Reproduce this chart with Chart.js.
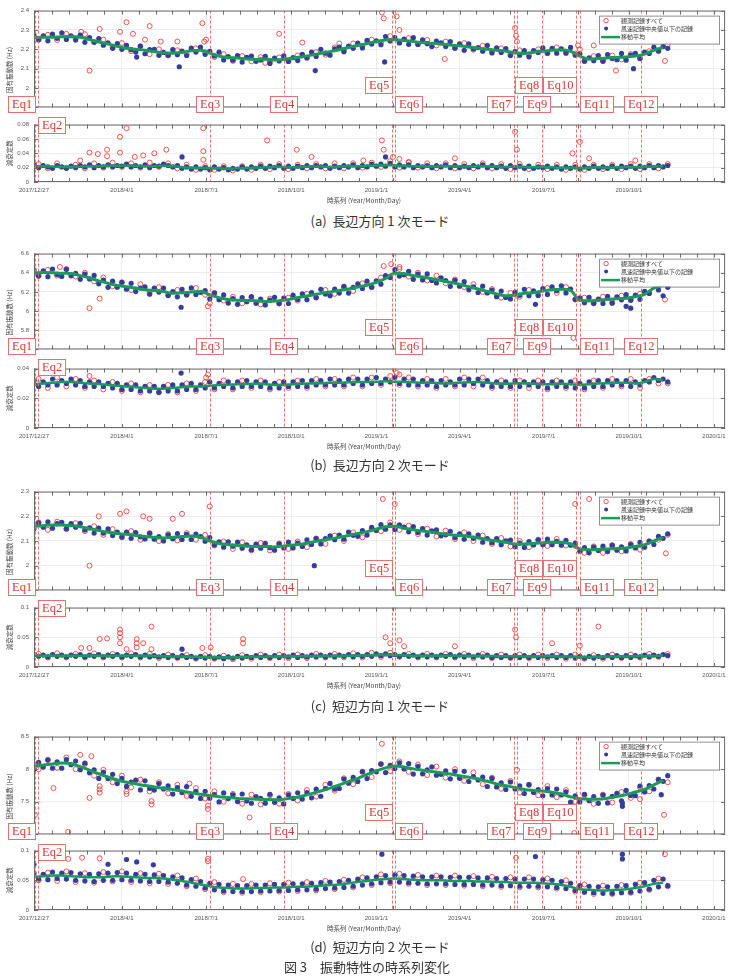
<!DOCTYPE html>
<html lang="ja">
<head>
<meta charset="utf-8">
<title>振動特性の時系列変化</title>
<script src="https://cdn.jsdelivr.net/npm/chart.js@4.4.1/dist/chart.umd.min.js"></script>
<style>
  body { margin: 0; width: 730px; height: 978px; position: relative; background: #fff; overflow: hidden; font-family: "Noto Sans CJK JP", sans-serif; }
  canvas { position: absolute; left: 0; }
  .cap { position: absolute; left: 0; width: 760px; text-align: center; font-size: 13px; line-height: 16px; color: #333; white-space: pre; }
  .eq { position: absolute; height: 15px; padding: 0 3px; border: 1px solid #e57070; background: #fff; color: #d8393c; font: 12.5px/15px "Liberation Serif", serif; white-space: nowrap; z-index: 5; }
</style>
</head>
<body>
<script>
// ---------- x axis (days from 2017/12/27) ----------
const majorDays = [0, 95, 186, 278, 370, 460, 551, 643, 735];
const majorLabels = ['2017/12/27', '2018/4/1', '2018/7/1', '2018/10/1', '2019/1/1', '2019/4/1', '2019/7/1', '2019/10/1', '2020/1/1'];
const X_MAX = 747;

// ---------- earthquakes ----------
const eqNames = ['Eq1', 'Eq2', 'Eq3', 'Eq4', 'Eq5', 'Eq6', 'Eq7', 'Eq8', 'Eq9', 'Eq10', 'Eq11', 'Eq12'];
const eqDays = [1, 4, 190, 270, 387, 390, 519, 522, 549, 586, 590, 656];
const eqSide = ['L', 'R', 'C', 'C', 'L', 'R', 'L', 'R', 'C', 'L', 'R', 'C'];
const eqRow = ['lo', 'eq2', 'lo', 'lo', 'hi', 'lo', 'lo', 'hi', 'lo', 'hi', 'lo', 'lo'];
const eqShift = [0, 0, 0, 0, 0, 0, 0, -2, -5, 0, 0, 0];

// ---------- y ticks ----------
const aFreqTicks = [1.9, 2, 2.1, 2.2, 2.3, 2.4];
const aDampTicks = [0, 0.02, 0.04, 0.06, 0.08];
const bFreqTicks = [5.6, 5.8, 6, 6.2, 6.4, 6.6];
const bDampTicks = [0, 0.02, 0.04];
const cFreqTicks = [1.9, 2, 2.1, 2.2, 2.3];
const cDampTicks = [0, 0.05, 0.1];
const dFreqTicks = [7, 7.5, 8, 8.5];
const dDampTicks = [0, 0.05, 0.1];

// avg: every 10 days from day 0, low: every 5 days from day 0, all: every 10 days from day 5

// ---------- (a) ----------
const aFreqAvg = [
  2.260,2.262,2.262,2.265,2.266,2.262,2.250,2.238,2.228,2.215,
  2.205,2.200,2.195,2.188,2.182,2.180,2.185,2.192,2.195,2.180,
  2.165,2.158,2.155,2.150,2.148,2.150,2.145,2.148,2.155,2.162,
  2.170,2.180,2.188,2.198,2.210,2.220,2.230,2.240,2.248,2.250,
  2.245,2.240,2.235,2.232,2.228,2.222,2.218,2.212,2.205,2.200,
  2.195,2.190,2.182,2.178,2.185,2.190,2.195,2.198,2.190,2.165,
  2.150,2.152,2.155,2.158,2.160,2.165,2.175,2.195,2.210];
const aFreqLow = [
  2.274,2.249,2.270,2.244,2.278,2.257,2.285,2.251,2.270,2.248,
  2.274,2.236,2.260,2.236,2.256,2.221,2.234,2.205,2.229,2.200,
  2.221,2.198,2.186,2.217,2.177,2.199,2.200,2.169,2.184,2.169,
  2.198,2.172,2.191,2.168,2.206,2.186,2.211,2.174,2.190,2.166,
  2.185,2.145,2.162,2.144,2.167,2.134,2.158,2.165,2.138,2.145,
  2.164,2.127,2.155,2.140,2.166,2.137,2.157,2.142,2.174,2.158,
  2.186,2.163,2.200,2.180,2.170,2.203,2.212,2.188,2.216,2.205,
  2.232,2.207,2.246,2.227,2.244,2.224,2.266,2.243,2.260,2.233,
  2.253,2.226,2.260,2.225,2.249,2.229,2.214,2.242,2.234,2.215,
  2.240,2.206,2.228,2.195,2.228,2.202,2.209,2.190,2.220,2.181,
  2.207,2.184,2.204,2.168,2.188,2.170,2.194,2.161,2.193,2.184,
  2.208,2.180,2.205,2.180,2.202,2.180,2.210,2.170,2.177,2.139,
  2.156,2.141,2.168,2.139,2.173,2.152,2.146,2.179,2.144,2.170,
  2.179,2.152,2.185,2.179,2.211,2.190,2.214,2.205];
const aFreqAll = [
  2.250,2.275,2.248,2.280,2.255,2.278,2.238,2.250,2.212,2.232,
  2.190,2.215,2.175,2.200,2.168,2.195,2.175,2.205,2.185,2.160,
  2.175,2.140,2.165,2.138,2.160,2.135,2.158,2.140,2.168,2.155,
  2.185,2.172,2.210,2.195,2.230,2.215,2.250,2.235,2.268,2.238,
  2.258,2.228,2.248,2.220,2.240,2.208,2.232,2.198,2.218,2.188,
  2.205,2.172,2.195,2.170,2.200,2.180,2.210,2.185,2.178,2.140,
  2.165,2.140,2.168,2.148,2.175,2.155,2.190,2.195,2.225];
const aFreqAllOut = [[51,2.29],[60,2.09],[71,2.305],[93,2.29],[100,2.34],[107,2.28],[120,2.25],[125,2.32],[137,2.24],[155,2.24],
  [182,2.335],[184,2.24],[186,2.25],[250,2.13],[265,2.28],[290,2.235],[330,2.23],[376,2.39],[378,2.36],[392,2.37],[395,2.30],
  [444,2.15],[520,2.31],[521,2.27],[522,2.24],[583,2.0],[588,2.22],[590,2.2],[605,2.22],[629,2.09],[682,2.14]];
const aFreqLowOut = [[111,2.16],[157,2.11],[304,2.09],[379,2.135],[648,2.10]];

const aDampAvg = [
  0.022,0.022,0.0215,0.021,0.021,0.0215,0.022,0.022,0.0225,0.0225,
  0.023,0.0225,0.022,0.022,0.0225,0.022,0.0205,0.020,0.0195,0.0195,
  0.019,0.0185,0.019,0.0195,0.020,0.0205,0.021,0.021,0.0205,0.021,
  0.0215,0.0215,0.021,0.0215,0.022,0.022,0.0225,0.023,0.0235,0.023,
  0.0225,0.022,0.022,0.0215,0.022,0.022,0.0215,0.0215,0.022,0.022,
  0.0215,0.021,0.0215,0.021,0.0205,0.021,0.0205,0.020,0.020,0.0195,
  0.020,0.0205,0.020,0.0205,0.021,0.0205,0.021,0.0215,0.022];
const aDampLow = [
  0.024,0.020,0.023,0.021,0.019,0.023,0.021,0.019,0.022,0.020,
  0.023,0.021,0.024,0.020,0.023,0.021,0.024,0.021,0.023,0.022,
  0.025,0.021,0.023,0.021,0.024,0.020,0.023,0.022,0.025,0.023,
  0.021,0.023,0.019,0.021,0.018,0.021,0.018,0.020,0.017,0.021,
  0.018,0.020,0.017,0.019,0.018,0.021,0.018,0.021,0.019,0.022,
  0.019,0.022,0.020,0.023,0.019,0.022,0.019,0.022,0.020,0.023,
  0.020,0.023,0.021,0.023,0.019,0.022,0.020,0.023,0.021,0.024,
  0.020,0.023,0.021,0.025,0.022,0.025,0.022,0.026,0.021,0.024,
  0.021,0.024,0.020,0.023,0.021,0.023,0.020,0.023,0.021,0.024,
  0.020,0.023,0.020,0.022,0.020,0.023,0.021,0.024,0.020,0.023,
  0.020,0.022,0.019,0.023,0.020,0.022,0.019,0.022,0.019,0.021,
  0.020,0.022,0.019,0.021,0.018,0.021,0.019,0.021,0.018,0.021,
  0.019,0.022,0.019,0.021,0.019,0.022,0.019,0.022,0.020,0.022,
  0.019,0.022,0.020,0.023,0.020,0.023,0.021,0.023];
const aDampAll = [
  0.025,0.019,0.026,0.020,0.024,0.019,0.026,0.020,0.027,0.021,
  0.026,0.020,0.027,0.021,0.026,0.019,0.024,0.017,0.022,0.017,
  0.022,0.016,0.022,0.017,0.024,0.018,0.025,0.018,0.024,0.019,
  0.025,0.019,0.026,0.019,0.026,0.020,0.027,0.021,0.029,0.020,
  0.027,0.020,0.026,0.019,0.026,0.019,0.025,0.019,0.026,0.019,
  0.025,0.018,0.025,0.018,0.024,0.018,0.024,0.017,0.024,0.017,
  0.024,0.018,0.024,0.018,0.025,0.018,0.025,0.019,0.025];
const aDampAllOut = [[50,0.03],[60,0.041],[69,0.039],[79,0.045],[79,0.036],[93,0.063],[93,0.041],[100,0.075],[109,0.035],[118,0.037],
  [130,0.04],[143,0.045],[183,0.075],[183,0.043],[183,0.031],[252,0.058],[284,0.045],[300,0.035],[356,0.03],[376,0.058],
  [378,0.045],[388,0.035],[395,0.032],[405,0.028],[455,0.033],[520,0.07],[522,0.045],[582,0.04],[590,0.056],[600,0.033],[650,0.03]];
const aDampLowOut = [[160,0.035],[380,0.035]];

// ---------- (b) ----------
const bFreqAvg = [
  6.400,6.402,6.400,6.395,6.392,6.370,6.345,6.315,6.290,6.268,
  6.255,6.240,6.222,6.215,6.205,6.185,6.190,6.200,6.205,6.170,
  6.140,6.120,6.112,6.110,6.108,6.100,6.105,6.112,6.130,6.150,
  6.165,6.185,6.200,6.215,6.230,6.250,6.270,6.300,6.340,6.395,
  6.390,6.370,6.355,6.338,6.320,6.300,6.280,6.255,6.230,6.205,
  6.180,6.160,6.165,6.185,6.192,6.210,6.222,6.228,6.215,6.110,
  6.105,6.112,6.120,6.128,6.135,6.150,6.175,6.240,6.268];
const bFreqLow = [
  6.430,6.365,6.420,6.359,6.439,6.383,6.362,6.436,6.368,6.393,
  6.331,6.385,6.336,6.372,6.285,6.323,6.248,6.312,6.250,6.301,
  6.228,6.290,6.204,6.240,6.252,6.176,6.239,6.198,6.241,6.162,
  6.203,6.149,6.226,6.171,6.242,6.173,6.196,6.215,6.128,6.188,
  6.119,6.169,6.084,6.131,6.070,6.141,6.098,6.151,6.081,6.125,
  6.064,6.114,6.144,6.078,6.136,6.079,6.166,6.122,6.180,6.119,
  6.192,6.142,6.227,6.177,6.161,6.229,6.188,6.258,6.188,6.249,
  6.283,6.236,6.312,6.249,6.315,6.281,6.370,6.350,6.434,6.365,
  6.378,6.416,6.331,6.386,6.325,6.388,6.320,6.293,6.347,6.319,
  6.258,6.320,6.259,6.307,6.222,6.254,6.194,6.260,6.190,6.219,
  6.150,6.209,6.142,6.126,6.198,6.166,6.227,6.161,6.210,6.162,
  6.234,6.174,6.252,6.213,6.264,6.189,6.230,6.123,6.137,6.087,
  6.144,6.081,6.124,6.080,6.153,6.082,6.149,6.117,6.171,6.112,
  6.168,6.123,6.205,6.184,6.282,6.221,6.280,6.248];
const bFreqAll = [
  6.37,6.43,6.37,6.44,6.36,6.40,6.31,6.35,6.26,6.30,
  6.22,6.28,6.19,6.25,6.17,6.22,6.17,6.24,6.17,6.19,
  6.11,6.15,6.08,6.14,6.07,6.13,6.08,6.14,6.11,6.18,
  6.14,6.22,6.18,6.25,6.21,6.29,6.25,6.35,6.36,6.44,
  6.36,6.40,6.32,6.37,6.29,6.33,6.25,6.28,6.20,6.23,
  6.14,6.19,6.15,6.22,6.17,6.24,6.19,6.25,6.12,6.14,
  6.08,6.15,6.09,6.16,6.12,6.18,6.19,6.28,6.26];
const bFreqAllOut = [[28,6.46],[60,6.03],[71,6.13],[188,6.05],[190,6.08],[378,6.47],[386,6.49],[395,6.46],[522,6.16],[583,5.72],[682,6.12]];
const bFreqLowOut = [[159,6.04],[542,6.07],[640,6.05],[645,6.03],[680,6.16]];

const bDampAvg = [
  0.0295,0.030,0.0305,0.031,0.031,0.0305,0.030,0.0297,0.029,0.0285,
  0.028,0.0275,0.027,0.0265,0.0265,0.027,0.0275,0.028,0.028,0.0285,
  0.029,0.0292,0.0295,0.0297,0.0298,0.0295,0.029,0.029,0.0295,0.0298,
  0.030,0.0302,0.0305,0.0305,0.0308,0.031,0.031,0.0312,0.0315,0.0312,
  0.031,0.0308,0.0305,0.0305,0.030,0.0302,0.0305,0.0308,0.031,0.0305,
  0.030,0.0298,0.030,0.0302,0.0298,0.0295,0.0295,0.0298,0.0295,0.029,
  0.0295,0.030,0.0302,0.0305,0.0305,0.030,0.031,0.033,0.032];
const bDampLow = [
  0.032,0.028,0.031,0.029,0.033,0.029,0.032,0.030,0.033,0.029,
  0.032,0.028,0.031,0.028,0.031,0.028,0.030,0.027,0.030,0.026,
  0.029,0.026,0.029,0.025,0.028,0.025,0.028,0.024,0.028,0.025,
  0.029,0.025,0.029,0.026,0.030,0.026,0.029,0.027,0.031,0.027,
  0.030,0.028,0.031,0.027,0.031,0.028,0.032,0.028,0.031,0.028,
  0.031,0.027,0.030,0.027,0.031,0.028,0.031,0.028,0.032,0.028,
  0.032,0.029,0.032,0.029,0.033,0.029,0.032,0.029,0.033,0.030,
  0.033,0.029,0.033,0.030,0.034,0.030,0.033,0.031,0.034,0.030,
  0.033,0.029,0.033,0.029,0.032,0.029,0.032,0.028,0.032,0.029,
  0.031,0.029,0.033,0.029,0.033,0.030,0.033,0.029,0.032,0.028,
  0.031,0.028,0.031,0.028,0.032,0.028,0.031,0.029,0.031,0.028,
  0.031,0.027,0.031,0.028,0.031,0.028,0.031,0.027,0.030,0.027,
  0.031,0.028,0.032,0.028,0.032,0.029,0.032,0.029,0.032,0.028,
  0.031,0.029,0.032,0.031,0.034,0.032,0.033,0.031];
const bDampAll = [
  0.033,0.027,0.034,0.028,0.033,0.027,0.032,0.026,0.031,0.025,
  0.030,0.024,0.029,0.024,0.029,0.024,0.030,0.025,0.031,0.026,
  0.032,0.026,0.032,0.027,0.032,0.026,0.031,0.027,0.032,0.027,
  0.033,0.028,0.033,0.028,0.034,0.028,0.034,0.029,0.035,0.029,
  0.034,0.028,0.033,0.027,0.033,0.028,0.034,0.028,0.034,0.027,
  0.032,0.027,0.032,0.027,0.032,0.026,0.032,0.027,0.032,0.026,
  0.032,0.027,0.033,0.028,0.033,0.027,0.033,0.030,0.030];
const bDampAllOut = [[60,0.035],[186,0.034],[188,0.036],[392,0.037],[395,0.036]];
const bDampLowOut = [[159,0.037]];

// ---------- (c) ----------
const cFreqAvg = [
  2.160,2.162,2.165,2.165,2.162,2.158,2.150,2.142,2.135,2.130,
  2.127,2.122,2.118,2.115,2.112,2.115,2.118,2.120,2.115,2.100,
  2.090,2.085,2.082,2.080,2.078,2.078,2.076,2.080,2.084,2.088,
  2.095,2.102,2.108,2.115,2.122,2.130,2.138,2.148,2.158,2.160,
  2.152,2.145,2.140,2.135,2.130,2.125,2.122,2.118,2.112,2.105,
  2.100,2.095,2.088,2.088,2.090,2.093,2.095,2.095,2.088,2.068,
  2.065,2.066,2.068,2.070,2.072,2.078,2.085,2.100,2.115];
const cFreqLow = [
  2.150,2.173,2.156,2.178,2.152,2.170,2.176,2.150,2.170,2.156,
  2.171,2.145,2.153,2.132,2.152,2.132,2.149,2.122,2.136,2.116,
  2.136,2.111,2.134,2.117,2.108,2.131,2.107,2.118,2.100,2.125,
  2.109,2.130,2.106,2.127,2.106,2.128,2.118,2.099,2.114,2.084,
  2.097,2.075,2.097,2.079,2.096,2.071,2.084,2.065,2.087,2.071,
  2.090,2.073,2.063,2.088,2.072,2.096,2.072,2.092,2.078,2.105,
  2.086,2.110,2.088,2.110,2.121,2.105,2.124,2.107,2.136,2.123,
  2.119,2.142,2.124,2.155,2.143,2.166,2.148,2.165,2.147,2.165,
  2.156,2.137,2.158,2.134,2.150,2.124,2.141,2.145,2.121,2.125,
  2.139,2.114,2.129,2.107,2.129,2.111,2.124,2.095,2.110,2.093,
  2.110,2.085,2.101,2.104,2.077,2.091,2.074,2.098,2.084,2.105,
  2.085,2.108,2.085,2.099,2.083,2.103,2.083,2.091,2.059,2.073,
  2.052,2.075,2.062,2.079,2.057,2.083,2.063,2.076,2.060,2.085,
  2.072,2.095,2.075,2.100,2.086,2.119,2.111,2.129];
const cFreqAll = [
  2.175,2.145,2.178,2.148,2.172,2.140,2.160,2.125,2.148,2.115,
  2.140,2.105,2.132,2.100,2.128,2.102,2.132,2.105,2.125,2.082,
  2.098,2.068,2.095,2.062,2.092,2.062,2.090,2.068,2.098,2.075,
  2.110,2.088,2.122,2.100,2.135,2.115,2.150,2.140,2.175,2.145,
  2.162,2.128,2.150,2.118,2.142,2.108,2.135,2.100,2.122,2.088,
  2.112,2.078,2.100,2.075,2.105,2.080,2.108,2.082,2.080,2.052,
  2.078,2.052,2.082,2.058,2.088,2.065,2.098,2.105,2.125];
const cFreqAllOut = [[60,2.0],[70,2.2],[93,2.21],[100,2.22],[118,2.2],[125,2.19],[150,2.19],[160,2.21],[190,2.24],[377,2.27],
  [390,2.25],[585,2.25],[600,2.27],[683,2.05]];
const cFreqLowOut = [[303,2.0]];

const cDampAvg = [
  0.019,0.019,0.0192,0.019,0.0188,0.019,0.0192,0.019,0.0188,0.019,
  0.0192,0.019,0.0188,0.0185,0.018,0.0178,0.0175,0.0172,0.017,0.0165,
  0.0162,0.016,0.0165,0.017,0.0172,0.0175,0.0175,0.0178,0.018,0.018,
  0.0182,0.0185,0.0185,0.0188,0.019,0.0192,0.0195,0.020,0.0205,0.020,
  0.0195,0.019,0.019,0.0188,0.0188,0.019,0.019,0.0188,0.0185,0.0185,
  0.0182,0.018,0.018,0.0178,0.0178,0.018,0.018,0.0178,0.0175,0.017,
  0.017,0.0172,0.0175,0.0175,0.0178,0.018,0.0182,0.0185,0.019];
const cDampLow = [
  0.021,0.018,0.020,0.017,0.021,0.018,0.020,0.017,0.020,0.018,
  0.021,0.017,0.020,0.018,0.021,0.017,0.020,0.018,0.021,0.017,
  0.020,0.018,0.021,0.017,0.020,0.017,0.019,0.017,0.019,0.016,
  0.019,0.016,0.019,0.016,0.018,0.015,0.018,0.015,0.018,0.015,
  0.017,0.014,0.017,0.015,0.018,0.015,0.018,0.016,0.019,0.016,
  0.019,0.016,0.019,0.016,0.019,0.017,0.020,0.016,0.019,0.017,
  0.020,0.017,0.020,0.017,0.020,0.017,0.020,0.018,0.021,0.017,
  0.021,0.018,0.021,0.018,0.022,0.019,0.022,0.019,0.021,0.018,
  0.021,0.018,0.020,0.017,0.020,0.017,0.020,0.017,0.020,0.018,
  0.021,0.017,0.020,0.017,0.020,0.017,0.020,0.017,0.020,0.016,
  0.019,0.016,0.019,0.016,0.019,0.016,0.019,0.016,0.019,0.016,
  0.019,0.017,0.019,0.016,0.019,0.016,0.019,0.015,0.018,0.015,
  0.018,0.015,0.018,0.016,0.019,0.016,0.019,0.016,0.019,0.016,
  0.019,0.017,0.020,0.017,0.020,0.018,0.021,0.019];
const cDampAll = [
  0.022,0.016,0.023,0.016,0.022,0.016,0.023,0.016,0.022,0.016,
  0.023,0.016,0.022,0.015,0.021,0.015,0.020,0.014,0.020,0.014,
  0.019,0.013,0.020,0.014,0.021,0.015,0.021,0.015,0.021,0.015,
  0.022,0.016,0.022,0.016,0.023,0.016,0.024,0.017,0.024,0.017,
  0.022,0.016,0.022,0.016,0.022,0.016,0.022,0.015,0.022,0.015,
  0.021,0.015,0.021,0.015,0.021,0.015,0.021,0.014,0.021,0.014,
  0.020,0.014,0.021,0.015,0.021,0.016,0.022,0.017,0.022];
const cDampAllOut = [[51,0.032],[60,0.032],[71,0.047],[79,0.048],[93,0.063],[93,0.057],[93,0.05],[93,0.04],[100,0.03],[111,0.047],
  [111,0.04],[111,0.033],[118,0.04],[127,0.068],[127,0.03],[182,0.032],[191,0.033],[226,0.047],[226,0.04],[380,0.05],
  [385,0.04],[395,0.045],[400,0.035],[455,0.035],[520,0.063],[521,0.05],[560,0.04],[590,0.036],[610,0.068]];
const cDampLowOut = [[160,0.03]];

// ---------- (d) ----------
const dFreqAvg = [
  8.050,8.065,8.080,8.095,8.085,8.040,7.985,7.930,7.880,7.835,
  7.800,7.775,7.750,7.728,7.705,7.690,7.665,7.640,7.615,7.595,
  7.578,7.565,7.552,7.545,7.540,7.535,7.532,7.540,7.560,7.590,
  7.625,7.665,7.710,7.760,7.810,7.860,7.920,7.975,8.020,8.050,
  8.035,8.005,7.985,7.965,7.945,7.925,7.900,7.875,7.850,7.815,
  7.775,7.745,7.720,7.690,7.675,7.665,7.645,7.620,7.575,7.545,
  7.540,7.540,7.555,7.580,7.610,7.650,7.690,7.760,7.830];
const dFreqLow = [
  7.994,8.106,8.033,8.144,8.016,8.112,8.015,8.146,8.069,8.126,
  7.992,8.092,7.945,7.990,7.858,7.953,7.856,7.922,7.779,7.858,
  7.736,7.804,7.831,7.682,7.822,7.707,7.680,7.780,7.697,7.746,
  7.618,7.718,7.641,7.732,7.584,7.660,7.551,7.661,7.555,7.610,
  7.498,7.636,7.549,7.606,7.504,7.620,7.513,7.478,7.580,7.554,
  7.479,7.614,7.492,7.560,7.468,7.606,7.552,7.639,7.542,7.640,
  7.561,7.693,7.585,7.704,7.782,7.695,7.704,7.849,7.786,7.875,
  7.812,7.962,7.856,7.980,7.959,8.078,7.948,8.059,8.010,8.098,
  8.003,8.084,7.925,8.043,7.929,7.991,8.037,7.907,7.921,7.975,
  7.853,7.968,7.860,7.968,7.811,7.886,7.834,7.880,7.735,7.859,
  7.727,7.792,7.689,7.804,7.696,7.745,7.626,7.762,7.643,7.686,
  7.593,7.703,7.605,7.696,7.604,7.654,7.495,7.592,7.497,7.614,
  7.516,7.580,7.476,7.604,7.483,7.584,7.628,7.515,7.674,7.598,
  7.594,7.742,7.650,7.749,7.696,7.843,7.814,7.900];
const dFreqAll = [
  8.00,8.14,8.02,8.18,8.00,8.08,7.90,7.99,7.80,7.90,
  7.72,7.84,7.66,7.80,7.63,7.76,7.59,7.71,7.55,7.66,
  7.50,7.62,7.47,7.61,7.46,7.60,7.47,7.62,7.52,7.68,
  7.58,7.76,7.67,7.86,7.77,7.96,7.88,8.08,7.97,8.12,
  7.96,8.07,7.91,8.04,7.87,8.00,7.82,7.95,7.77,7.87,
  7.70,7.82,7.64,7.76,7.60,7.74,7.57,7.68,7.50,7.60,
  7.47,7.61,7.49,7.65,7.56,7.72,7.66,7.84,7.80];
const dFreqAllOut = [[1,7.30],[21,7.71],[37,7.04],[50,8.22],[60,7.56],[62,8.20],[71,7.64],[71,7.69],[71,7.74],[100,7.62],
  [100,7.66],[127,7.46],[127,7.51],[168,7.78],[188,7.39],[188,7.44],[233,7.26],[376,8.39],[522,7.99],[584,7.02],[655,7.54],[681,7.30]];
const dFreqLowOut = [[636,7.48],[636,7.43],[678,7.61]];

const dDampAvg = [
  0.056,0.057,0.058,0.058,0.057,0.056,0.055,0.055,0.056,0.057,
  0.056,0.055,0.054,0.054,0.053,0.051,0.049,0.046,0.043,0.040,
  0.038,0.037,0.036,0.036,0.037,0.037,0.038,0.038,0.039,0.039,
  0.040,0.041,0.042,0.043,0.045,0.047,0.049,0.051,0.052,0.053,
  0.052,0.051,0.050,0.050,0.050,0.049,0.049,0.049,0.048,0.048,
  0.047,0.047,0.046,0.046,0.046,0.045,0.044,0.042,0.039,0.035,
  0.034,0.033,0.033,0.034,0.035,0.037,0.040,0.044,0.046];
const dDampLow = [
  0.062,0.052,0.060,0.051,0.064,0.053,0.062,0.052,0.063,0.050,
  0.061,0.049,0.060,0.048,0.061,0.050,0.062,0.050,0.063,0.051,
  0.062,0.050,0.060,0.049,0.060,0.048,0.059,0.048,0.058,0.047,
  0.056,0.045,0.054,0.042,0.051,0.040,0.048,0.037,0.045,0.034,
  0.043,0.032,0.042,0.031,0.041,0.031,0.041,0.031,0.042,0.032,
  0.042,0.032,0.043,0.033,0.043,0.033,0.044,0.034,0.044,0.034,
  0.045,0.035,0.046,0.036,0.047,0.037,0.048,0.038,0.050,0.040,
  0.052,0.042,0.054,0.044,0.056,0.046,0.058,0.047,0.059,0.047,
  0.058,0.046,0.057,0.045,0.056,0.044,0.056,0.044,0.056,0.044,
  0.055,0.043,0.055,0.043,0.055,0.043,0.054,0.042,0.054,0.042,
  0.053,0.041,0.053,0.041,0.052,0.040,0.052,0.040,0.052,0.040,
  0.051,0.039,0.050,0.038,0.048,0.036,0.045,0.033,0.041,0.030,
  0.040,0.029,0.039,0.028,0.039,0.028,0.040,0.029,0.041,0.030,
  0.043,0.032,0.046,0.035,0.050,0.039,0.052,0.041];
const dDampAll = [
  0.050,0.063,0.049,0.065,0.047,0.062,0.046,0.064,0.048,0.065,
  0.047,0.062,0.045,0.061,0.044,0.058,0.040,0.053,0.035,0.047,
  0.030,0.044,0.029,0.044,0.030,0.045,0.031,0.046,0.032,0.047,
  0.033,0.049,0.035,0.051,0.038,0.055,0.042,0.060,0.045,0.061,
  0.044,0.059,0.042,0.058,0.042,0.058,0.041,0.057,0.040,0.056,
  0.039,0.055,0.038,0.055,0.038,0.053,0.036,0.050,0.031,0.043,
  0.027,0.041,0.027,0.042,0.029,0.046,0.034,0.053,0.040];
const dDampAllOut = [[37,0.086],[52,0.088],[71,0.087],[188,0.086],[188,0.082],[226,0.052],[521,0.088],[682,0.094]];
const dDampLowOut = [[0,0.077],[80,0.077],[100,0.085],[111,0.081],[129,0.076],[376,0.094],[542,0.09],[636,0.094],[636,0.086]];

// ---------- style ----------
const RED = '#ee3e3e';
const BLUE = '#333f9b';
const GREEN = '#1c9a57';
const GRID = '#e4e4e4';
const FRAME = '#6b6b6b';
const EQ_LINE = '#e4625c';
const TXT = '#555';

// all tick positions (majors + 4 minors between)
const tickDays = [];
for (let i = 0; i < majorDays.length - 1; i++) {
  const a = majorDays[i], b = majorDays[i + 1];
  for (let k = 0; k < 5; k++) tickDays.push(a + (b - a) * k / 5);
}
tickDays.push(majorDays[majorDays.length - 1]);

const pts = (start, step, vals) => vals.map((v, i) => ({x: start + i * step, y: v}));
const pairs = arr => arr.map(p => ({x: p[0], y: p[1]}));

function makeSets(s, lw) {
  return [
    {data: pts(0, 10, s[0]), showLine: true, borderColor: GREEN, borderWidth: lw, pointRadius: 0, cubicInterpolationMode: 'monotone', order: 0},
    {data: pts(0, 5, s[1]).concat(pairs(s[4])), pointRadius: 2.6, backgroundColor: BLUE, borderWidth: 0, order: 1},
    {data: pts(5, 10, s[2]).concat(pairs(s[3])), pointRadius: 2.5, borderColor: RED, backgroundColor: 'rgba(0,0,0,0)', borderWidth: 0.9, order: 2}
  ];
}

// frame, inward ticks, titles, legend, earthquake lines
const deco = {
  id: 'deco',
  afterDatasetsDraw(chart) {
    const {ctx, chartArea: a, scales: {x}} = chart;
    ctx.save();
    ctx.strokeStyle = EQ_LINE;
    ctx.lineWidth = 0.9;
    ctx.setLineDash([3, 2]);
    ctx.beginPath();
    eqDays.forEach(d => {
      const px = Math.round(x.getPixelForValue(d)) + 0.5;
      ctx.moveTo(px, a.top);
      ctx.lineTo(px, a.bottom);
    });
    ctx.stroke();
    ctx.restore();
  },
  afterDraw(chart, args, o) {
    const {ctx, chartArea: a, scales: {x, y}} = chart;
    ctx.save();
    ctx.strokeStyle = FRAME;
    ctx.lineWidth = 1;
    ctx.strokeRect(a.left + 0.5, a.top + 0.5, a.right - a.left - 1, a.bottom - a.top - 1);
    ctx.beginPath();
    tickDays.forEach(d => {
      const px = Math.round(x.getPixelForValue(d)) + 0.5;
      ctx.moveTo(px, a.bottom); ctx.lineTo(px, a.bottom - 4);
      ctx.moveTo(px, a.top); ctx.lineTo(px, a.top + 4);
    });
    y.ticks.forEach(t => {
      const py = Math.round(y.getPixelForValue(t.value)) + 0.5;
      ctx.moveTo(a.left, py); ctx.lineTo(a.left + 4, py);
      ctx.moveTo(a.right, py); ctx.lineTo(a.right - 4, py);
    });
    ctx.stroke();

    // y title
    ctx.fillStyle = '#444';
    ctx.font = '6.5px "Noto Sans CJK JP"';
    ctx.textAlign = 'center';
    ctx.textBaseline = 'middle';
    ctx.save();
    ctx.translate(10, (a.top + a.bottom) / 2 + o.titleShift);
    ctx.rotate(-Math.PI / 2);
    ctx.fillText(o.yTitle, 0, 0);
    ctx.restore();

    // x title
    if (o.xTitle) ctx.fillText('時系列 (Year/Month/Day)', 364, a.bottom + 19);

    // legend
    if (o.legend) {
      const lx = a.right - 126, ly = a.top + 5;
      ctx.fillStyle = '#fff';
      ctx.fillRect(lx, ly, 120, 28);
      ctx.strokeStyle = '#777';
      ctx.lineWidth = 0.8;
      ctx.strokeRect(lx + 0.5, ly + 0.5, 120, 28);
      ctx.beginPath();
      ctx.arc(lx + 7, ly + 5, 2.2, 0, Math.PI * 2);
      ctx.strokeStyle = RED;
      ctx.lineWidth = 0.9;
      ctx.stroke();
      ctx.beginPath();
      ctx.arc(lx + 7, ly + 13, 2, 0, Math.PI * 2);
      ctx.fillStyle = BLUE;
      ctx.fill();
      ctx.beginPath();
      ctx.moveTo(lx + 2, ly + 21.5);
      ctx.lineTo(lx + 21, ly + 21.5);
      ctx.strokeStyle = GREEN;
      ctx.lineWidth = 2.5;
      ctx.stroke();
      ctx.fillStyle = '#333';
      ctx.textAlign = 'left';
      ctx.font = '6px "Noto Sans CJK JP"';
      ctx.fillText('観測記録すべて', lx + 22, ly + 5);
      ctx.fillText('風速記録中央値以下の記録', lx + 22, ly + 13);
      ctx.fillText('移動平均', lx + 22, ly + 21.5);
    }
    ctx.restore();
  }
};

function makeChart(top, bottom, range, yTicks, sets, isFreq, lastLabel) {
  const padTop = 6;
  const below = isFreq ? 0 : 28;
  const c = document.createElement('canvas');
  c.width = 730;
  c.height = bottom - top + padTop + below;
  c.style.top = (top - padTop) + 'px';
  document.body.appendChild(c);

  return new Chart(c, {
    type: 'scatter',
    data: {datasets: sets},
    plugins: [deco],
    options: {
      responsive: false,
      animation: false,
      devicePixelRatio: 1,
      events: [],
      layout: {padding: {top: padTop, right: 3, left: 0, bottom: isFreq ? 0 : 14}},
      plugins: {
        legend: {display: false},
        tooltip: {enabled: false},
        deco: {yTitle: isFreq ? '固有振動数 (Hz)' : '減衰定数', titleShift: isFreq ? 11 : 0, xTitle: !isFreq, legend: isFreq}
      },
      scales: {
        x: {
          type: 'linear', min: 0, max: X_MAX,
          afterBuildTicks: s => { s.ticks = tickDays.map(v => ({value: v})); },
          afterFit: s => { s.height = isFreq ? 0 : 14; s.paddingLeft = 0; s.paddingRight = 0; },
          border: {display: false},
          grid: {drawTicks: false, lineWidth: 0.7, color: ctx => (ctx.tick && majorDays.includes(ctx.tick.value) ? GRID : 'rgba(0,0,0,0)')},
          ticks: {
            display: !isFreq, autoSkip: false, maxRotation: 0, padding: 5,
            color: TXT, font: {family: 'Liberation Sans', size: 6},
            callback: v => {
              const i = majorDays.indexOf(v);
              if (i < 0) return '';
              if (!lastLabel && i === majorDays.length - 1) return '';
              return majorLabels[i];
            }
          }
        },
        y: {
          min: range[0], max: range[1],
          afterBuildTicks: s => { s.ticks = yTicks.map(v => ({value: v})); },
          afterFit: s => { s.width = 34; },
          border: {display: false},
          grid: {drawTicks: false, lineWidth: 0.7, color: GRID},
          ticks: {padding: 5, color: TXT, font: {family: 'Liberation Sans', size: 6}, callback: v => String(v)}
        }
      }
    }
  });
}

function addText(cls, text, top, width) {
  const el = document.createElement('div');
  el.className = cls;
  el.textContent = text;
  el.style.top = top + 'px';
  if (width) el.style.width = width + 'px';
  document.body.appendChild(el);
  return el;
}

function addEqLabels(chart, freqBottom) {
  const xs = chart.scales.x;
  eqNames.forEach((name, i) => {
    const px = xs.getPixelForValue(eqDays[i]);
    const el = addText('eq', name, 0);
    const w = el.offsetWidth;
    let left = px;
    if (eqSide[i] === 'L') left = px - w + 1;
    if (eqSide[i] === 'C') left = px - w / 2;
    left += eqShift[i];
    const top = eqRow[i] === 'hi' ? freqBottom - 39 : eqRow[i] === 'lo' ? freqBottom - 20 : freqBottom + 1;
    el.style.left = Math.round(left) + 'px';
    el.style.top = top + 'px';
  });
}

// ---------- panels ----------
const panels = [
  {f: [aFreqAvg, aFreqLow, aFreqAll, aFreqAllOut, aFreqLowOut], d: [aDampAvg, aDampLow, aDampAll, aDampAllOut, aDampLowOut],
   fBox: [8, 116], dBox: [122, 182], fRange: [1.9, 2.4], dRange: [0, 0.08], fTicks: aFreqTicks, dTicks: aDampTicks,
   caption: '(a)  長辺方向 1 次モード', capY: 221, lastLabel: false},
  {f: [bFreqAvg, bFreqLow, bFreqAll, bFreqAllOut, bFreqLowOut], d: [bDampAvg, bDampLow, bDampAll, bDampAllOut, bDampLowOut],
   fBox: [251, 358], dBox: [366, 428], fRange: [5.6, 6.6], dRange: [0, 0.04], fTicks: bFreqTicks, dTicks: bDampTicks,
   caption: '(b)  長辺方向 2 次モード', capY: 465, lastLabel: true},
  {f: [cFreqAvg, cFreqLow, cFreqAll, cFreqAllOut, cFreqLowOut], d: [cDampAvg, cDampLow, cDampAll, cDampAllOut, cDampLowOut],
   fBox: [489, 599], dBox: [605, 667], fRange: [1.9, 2.3], dRange: [0, 0.1], fTicks: cFreqTicks, dTicks: cDampTicks,
   caption: '(c)  短辺方向 1 次モード', capY: 706, lastLabel: true},
  {f: [dFreqAvg, dFreqLow, dFreqAll, dFreqAllOut, dFreqLowOut], d: [dDampAvg, dDampLow, dDampAll, dDampAllOut, dDampLowOut],
   fBox: [734, 843], dBox: [848, 910], fRange: [7, 8.5], dRange: [0, 0.1], fTicks: dFreqTicks, dTicks: dDampTicks,
   caption: '(d)  短辺方向 2 次モード', capY: 947, lastLabel: true}
];

panels.forEach(p => {
  const fc = makeChart(p.fBox[0], p.fBox[1], p.fRange, p.fTicks, makeSets(p.f, 3), true, p.lastLabel);
  makeChart(p.dBox[0], p.dBox[1], p.dRange, p.dTicks, makeSets(p.d, 2.5), false, p.lastLabel);
  addEqLabels(fc, p.fBox[1]);
  addText('cap', p.caption, p.capY - 8);
});

addText('cap', '図 3　振動特性の時系列変化', 959, 734);
</script>
</body>
</html>
